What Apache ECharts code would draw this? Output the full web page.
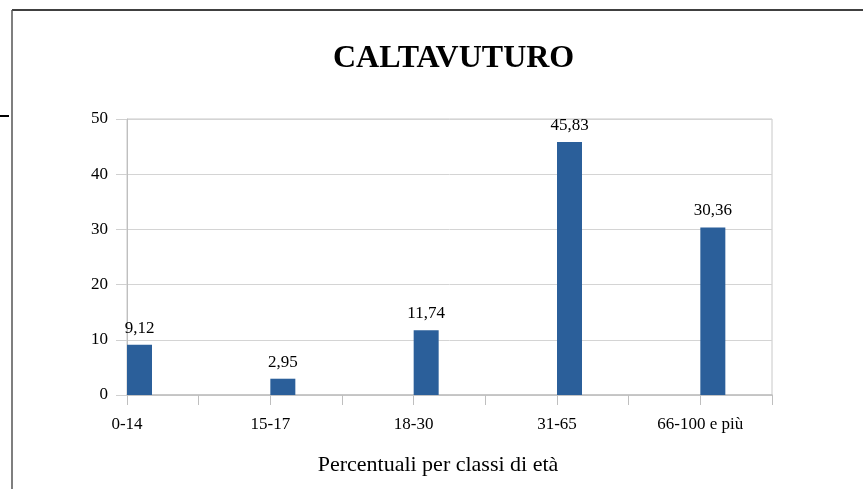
<!DOCTYPE html>
<html>
<head>
<meta charset="utf-8">
<script src="https://cdn.jsdelivr.net/npm/echarts@6/dist/echarts.min.js"></script>
<style>
  html, body { margin: 0; padding: 0; background: #fff; }
  #chart { width: 863px; height: 489px; }
</style>
</head>
<body>
<div id="chart"></div>
<script>
// age classes; blank slots give the half-steps between labelled ticks
const categories = ['0-14', '', '15-17', '', '18-30', '', '31-65', '', '66-100 e più', '']
const percentuali = [9.12, null, 2.95, null, 11.74, null, 45.83, null, 30.36, null]
const emptySlot = categories.map(() => null)
const yTicks = { min: 0, max: 50, interval: 10 }

const serif = '"Liberation Serif", "DejaVu Serif", serif'
const chart = echarts.init(document.getElementById('chart'))

chart.setOption({
  animation: false,
  title: {
    text: 'CALTAVUTURO',
    left: 328,
    top: 38,
    textStyle: { fontFamily: serif, fontSize: 32, fontWeight: 'bold', color: '#000' },
  },
  grid: {
    left: 127,
    right: 91,
    top: 119,
    bottom: 94,
    show: true,
    borderColor: '#c8c8c8',
    borderWidth: 1,
  },
  xAxis: {
    type: 'category',
    data: categories,
    boundaryGap: false,
    name: 'Percentuali per classi di età',
    nameLocation: 'middle',
    nameGap: 59,
    nameTextStyle: { fontFamily: serif, fontSize: 22, color: '#000', padding: [0, 23, 0, 0] },
    axisLine: { lineStyle: { color: '#bfbfbf', width: 1.5 } },
    axisTick: { interval: 0, length: 10, lineStyle: { color: '#bfbfbf' } },
    axisLabel: { interval: 0, margin: 21, fontFamily: serif, fontSize: 17, color: '#000' },
    splitLine: { show: false },
  },
  yAxis: {
    type: 'value',
    ...yTicks,
    axisLine: { show: true, lineStyle: { color: '#bfbfbf' } },
    axisTick: { show: true, length: 11, lineStyle: { color: '#d0d0d0' } },
    axisLabel: { margin: 19, fontFamily: serif, fontSize: 17, color: '#000' },
    splitLine: { lineStyle: { color: '#d4d4d4' } },
  },
  series: [
    {
      type: 'bar',
      data: emptySlot,
      barWidth: 25,
      barGap: 0,
      silent: true,
    },
    {
      name: 'Percentuali',
      type: 'bar',
      data: percentuali,
      barWidth: 25,
      barGap: 0,
      itemStyle: { color: '#2b5f9a' },
      label: {
        show: true,
        position: 'top',
        distance: 8,
        fontFamily: serif,
        fontSize: 17,
        color: '#000',
        formatter: p => p.value.toFixed(2).replace('.', ','),
      },
    },
  ],
  graphic: [
    { type: 'line', shape: { x1: 12, y1: 10, x2: 863, y2: 10 }, style: { stroke: '#000', lineWidth: 1.5 } },
    { type: 'line', shape: { x1: 12, y1: 10, x2: 12, y2: 489 }, style: { stroke: '#555', lineWidth: 1.5 } },
    { type: 'line', shape: { x1: 0, y1: 116, x2: 9, y2: 116 }, style: { stroke: '#000', lineWidth: 2 } },
  ],
})
</script>
</body>
</html>
